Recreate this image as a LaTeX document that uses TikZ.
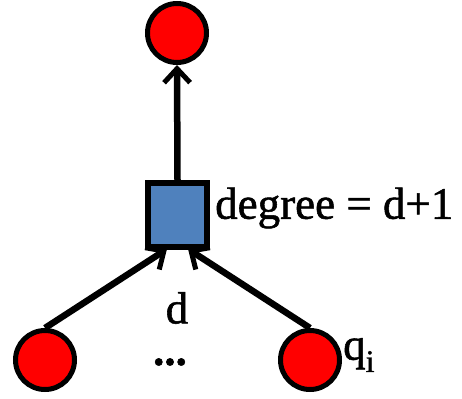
\documentclass[tikz,border=0pt]{standalone}
\usepackage{fontspec}
\setmainfont[FakeBold=1.2]{Liberation Serif}
\usetikzlibrary{arrows.meta}
\definecolor{nodered}{HTML}{FF0000}
\definecolor{facblue}{HTML}{4F81BD}
\begin{document}
\begin{tikzpicture}[x=1pt,y=-1pt,
  var/.style={circle,draw=black,line width=5pt,fill=nodered,minimum size=59pt,inner sep=0pt},
  fac/.style={rectangle,draw=black,line width=5.5pt,fill=facblue,minimum width=59pt,minimum height=64pt,inner sep=0pt},
  edge/.style={line width=6.5pt,-{Straight Barb[length=14pt,width=26pt,line width=5pt]}},
  lbl/.style={font=\fontsize{45}{52}\selectfont,inner sep=0pt}]
\useasboundingbox (0,0) rectangle (462,398);
\node[var] (top) at (177,33) {};
\node[fac] (sq) at (177.5,215) {};
\node[var] (bl) at (45,360) {};
\node[var] (br) at (310,360) {};
\coordinate (inL) at (167,249);
\coordinate (inR) at (188,249);
\draw[edge] (sq.north) -- (top.south);
\draw[edge] (bl.north) -- (inL);
\draw[edge] (br.north) -- (inR);
\node[lbl,anchor=west] (deg) at (215,208) {degree = d+1};
\node[lbl] (d) at (177,308) {d};
\node[lbl] (dots) at (170,362) {\textbf{...}};
\node[lbl,anchor=west] (q) at (343,355) {q\textsubscript{i}};
\end{tikzpicture}
\end{document}
